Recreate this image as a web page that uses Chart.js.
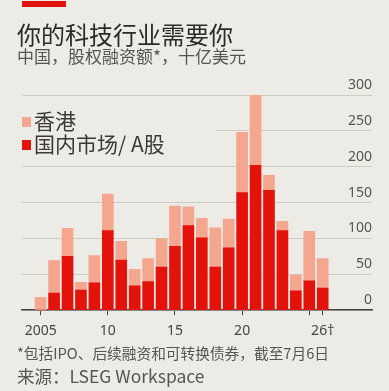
<!DOCTYPE html>
<html>
<head>
<meta charset="utf-8">
<script src="https://cdn.jsdelivr.net/npm/chart.js@4.4.0/dist/chart.umd.min.js"></script>
<style>
  body { margin:0; background:#ecebe5; font-family:"Noto Sans CJK SC","Noto Sans",sans-serif; }
  #wrap { position:relative; width:389px; height:391px; overflow:hidden; }
  #chart { position:absolute; left:0; top:0; }
  .redtag { position:absolute; left:22px; top:1px; width:44px; height:6px; background:#e3120b; }
  .title { position:absolute; left:17px; top:19px; font-size:24px; color:#2b2b2b; white-space:nowrap; line-height:30px; }
  .sub { position:absolute; left:17px; top:46px; font-size:17px; color:#555; white-space:nowrap; line-height:20px; }
  .legend { position:absolute; left:20px; top:107px; width:196px; height:46px; background:#ecebe5; z-index:2; }
  .legend div { position:absolute; left:2px; font-size:21px; color:#3a3a3a; white-space:nowrap; line-height:24px; }
  .legend span { display:inline-block; width:9px; height:10px; margin-right:3px; vertical-align:2px; }
  .note { position:absolute; left:17px; top:344px; font-size:14.7px; color:#555; white-space:nowrap; line-height:18px; }
  .source { position:absolute; left:17px; top:365px; font-size:17.5px; color:#555; white-space:nowrap; line-height:22px; }
</style>
</head>
<body>
<div id="wrap">
  <canvas id="chart" width="389" height="391"></canvas>
  <div class="redtag"></div>
  <div class="title">你的科技行业需要你</div>
  <div class="sub">中国，股权融资额*，十亿美元</div>
  <div class="legend">
    <div style="top:1px"><span style="background:#f5a68e"></span>香港</div>
    <div style="top:24px"><span style="background:#e3120b"></span>国内市场/ A股</div>
  </div>
  <div class="note">*包括IPO、后续融资和可转换债券，截至7月6日</div>
  <div class="source">来源：LSEG Workspace</div>
</div>
<script>
// data, $bn
const years = [2005,2006,2007,2008,2009,2010,2011,2012,2013,2014,2015,2016,2017,2018,2019,2020,2021,2022,2023,2024,2025,2026];
const aShares = [0,24,75,28,38,111,70,34,40,60,89,118,101,60,87,164,202,167,111,27,41,31];
const hongKong = [18,45,39,11,38,51,26,23,32,40,56,26,27,55,40,84,105,21,13,22,69,41];
const xTicks = [2005,2010,2015,2020,2025,2026];
const xTickLabels = ['2005','10','15','20','','26†'];
const yTicks = [0,50,100,150,200,250,300];

Chart.defaults.font.family = '"Noto Sans CJK SC","Noto Sans",sans-serif';

const toPoints = vals => years.map((y, i) => ({ x: y, y: vals[i] }));

new Chart(document.getElementById('chart').getContext('2d'), {
  type: 'bar',
  data: {
    datasets: [
      { label: '国内市场/ A股', data: toPoints(aShares), backgroundColor: '#e3120b', barThickness: 11 },
      { label: '香港', data: toPoints(hongKong), backgroundColor: '#f5a68e', barThickness: 11 }
    ]
  },
  options: {
    responsive: false,
    animation: false,
    layout: { padding: { left: 22, right: 17, top: 95, bottom: 45 } },
    plugins: { legend: { display: false }, tooltip: { enabled: false } },
    scales: {
      x: {
        type: 'linear',
        stacked: true,
        offset: false,
        min: 2003.61,
        max: 2029.67,
        afterBuildTicks: s => { s.ticks = xTicks.map(v => ({ value: v })); },
        grid: { offset: false, drawOnChartArea: false, drawTicks: true, tickLength: 5, color: '#444', lineWidth: 1 },
        border: { display: true, color: '#444', width: 1.5 },
        ticks: {
          autoSkip: false, maxRotation: 0, padding: 7,
          color: '#444', font: { size: 14, family: '"Noto Sans","DejaVu Sans",sans-serif' },
          callback: v => xTickLabels[xTicks.indexOf(v)]
        }
      },
      y: {
        position: 'right',
        stacked: true,
        min: 0,
        max: 300,
        afterBuildTicks: s => { s.ticks = yTicks.map(v => ({ value: v })); },
        grid: { drawTicks: false, color: '#cdccc5', lineWidth: 1 },
        border: { display: false },
        ticks: { mirror: true, padding: 0, labelOffset: -10, color: '#555', font: { size: 14, family: '"Noto Sans","DejaVu Sans",sans-serif' } }
      }
    }
  }
});
</script>
</body>
</html>
